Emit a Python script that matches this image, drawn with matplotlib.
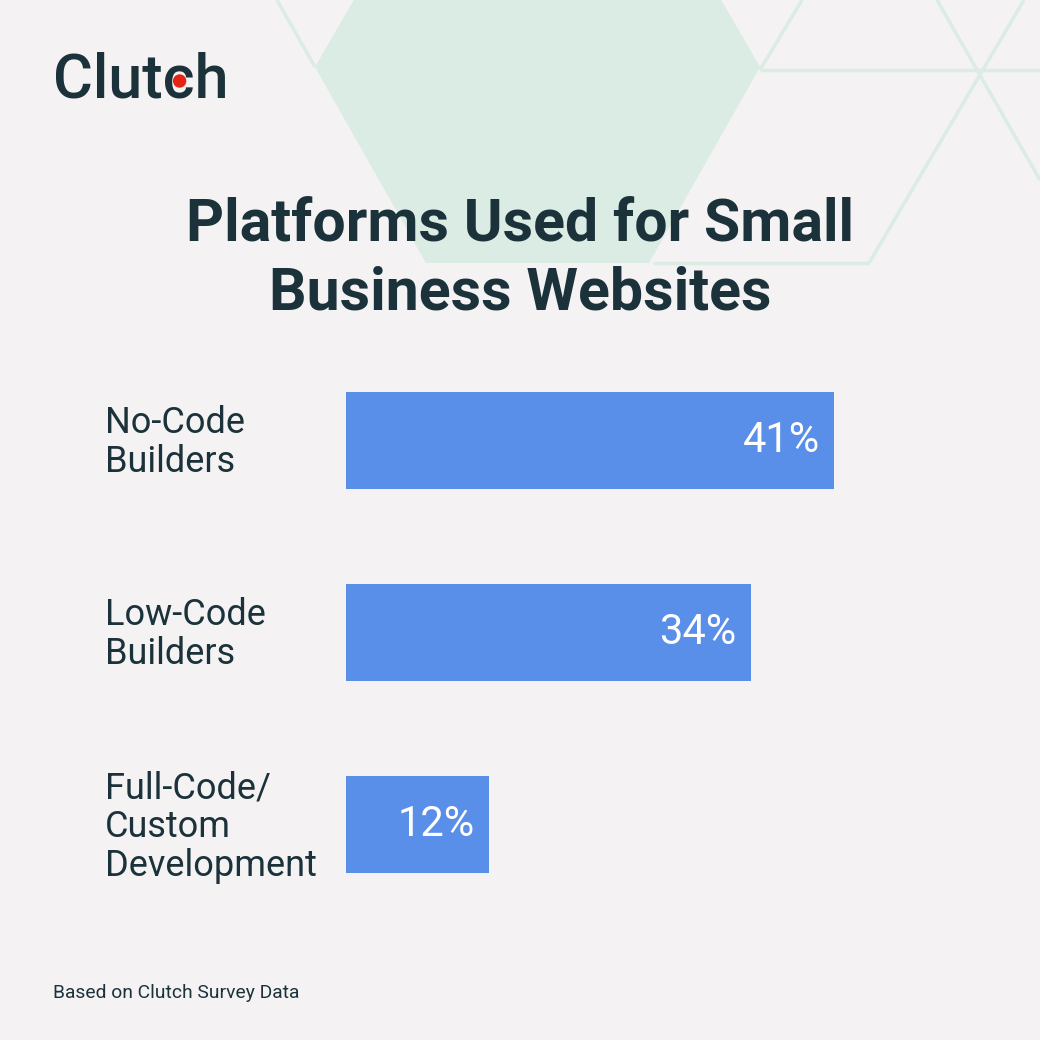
import matplotlib
matplotlib.use("Agg")
import matplotlib.pyplot as plt
from matplotlib.patches import Polygon, Circle
from matplotlib.transforms import blended_transform_factory

# data
categories = ["No-Code\nBuilders", "Low-Code\nBuilders", "Full-Code/\nCustom\nDevelopment"]
values = [41, 34, 12]
value_labels = ["41%", "34%", "12%"]

bg = "#F4F2F3"
navy = "#1B323B"
bar_col = "#5A8FE9"
deco = "#DBECE4"

plt.rcParams['font.family'] = ['Roboto', 'DejaVu Sans']

fig = plt.figure(figsize=(10.4, 10.4), dpi=100, facecolor=bg)

# full-figure axes in pixel coords for decoration and text
bgax = fig.add_axes([0, 0, 1, 1], zorder=0)
bgax.set_xlim(0, 1040)
bgax.set_ylim(1040, 0)
bgax.axis('off')

# filled hexagon
hexagon = Polygon([(315, 67), (426, -125), (649, -125), (760, 67), (649, 263), (426, 263)],
                  closed=True, facecolor=deco, edgecolor='none')
bgax.add_patch(hexagon)

# lattice lines
segs = [
    [(277, 0), (315, 67)],
    [(760, 70), (1040, 70)],
    [(802, 0), (760, 70)],
    [(653, 263), (869, 263)],
    [(869, 263), (1024, 0)],
    [(937, 0), (1040, 180)],
]
for s in segs:
    bgax.plot([s[0][0], s[1][0]], [s[0][1], s[1][1]], color=deco, lw=2.5, solid_capstyle='butt')

# logo, red dot placed in the middle of the "c"
logo = bgax.text(53, 97, "Clutch", fontsize=44, fontweight='medium', color=navy,
                 va='baseline', ha='left')
r = fig.canvas.get_renderer()
tmp = bgax.text(53, 97, "Clut", fontsize=44, fontweight='medium', va='baseline', ha='left')
w_a = tmp.get_window_extent(r).width
tmp.set_text("Clutc")
w_b = tmp.get_window_extent(r).width
tmp.remove()
cx = 53 + (w_a + w_b) / 2 + 1
bgax.add_patch(Circle((cx, 81), 6, color="#E62415", zorder=5))

# title
bgax.text(520, 259, "Platforms Used for Small\nBusiness Websites", fontsize=42.5, fontweight='bold',
          color=navy, ha='center', va='center', linespacing=1.3)

# footer
bgax.text(53, 993, "Based on Clutch Survey Data", fontsize=13.9, color=navy, ha='left', va='center')

# bar axes
ax = fig.add_axes([346 / 1040, 1 - 920.5 / 1040, 595 / 1040, 576 / 1040], zorder=2)
ax.patch.set_alpha(0)
ypos = list(range(len(values)))
ax.barh(ypos, values, height=0.505, color=bar_col)
ax.set_xlim(0, 50)
ax.set_ylim(2.5, -0.5)
ax.axis('off')

for y, v, t in zip(ypos, values, value_labels):
    ax.text(v - 1.2, y, t, color='white', fontsize=30, ha='right', va='center')

tr = blended_transform_factory(fig.transFigure, ax.transData)
for y, c in zip(ypos, categories):
    ax.text(105 / 1040, y + 0.012, c, transform=tr, fontsize=26, color=navy, ha='left', va='center',
            linespacing=1.1)

fig.savefig("out.png", dpi=100, facecolor=bg)
